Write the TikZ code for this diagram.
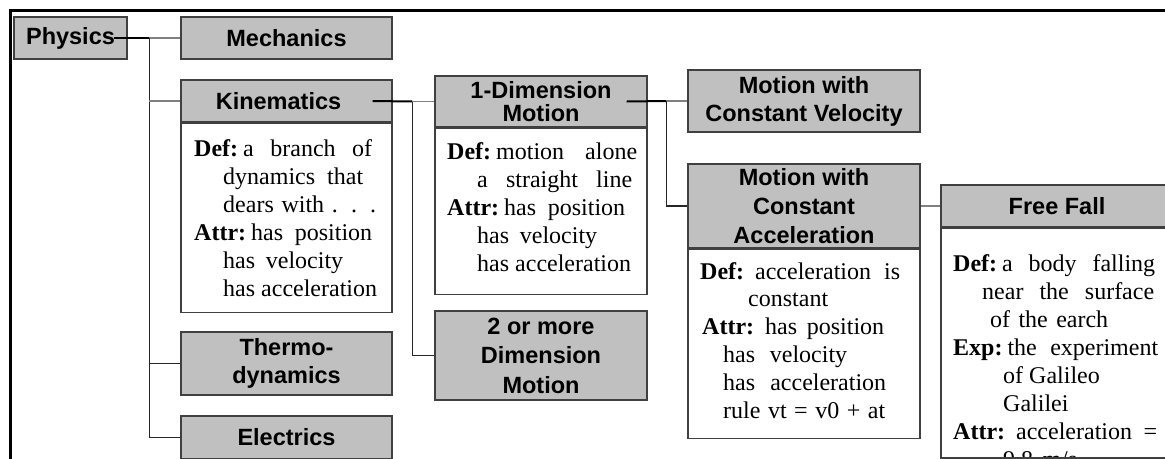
\documentclass[tikz,border=0pt]{standalone}
\usepackage{fontspec}
\setmainfont{Liberation Serif}
\newfontfamily\hdfont{Liberation Sans}
\usetikzlibrary{calc}
\definecolor{hdgray}{HTML}{C0C0C0}
\definecolor{edge}{HTML}{404040}

\tikzset{
  hdbox/.style={draw=edge, line width=1.3pt, fill=hdgray, inner sep=0pt, align=center,
    font=\hdfont\bfseries\fontsize{23.5}{#1}\selectfont},
  hdbox/.default=28,
  bodybox/.style={draw=edge, line width=1.3pt, fill=white, inner sep=0pt, anchor=north},
  ln/.style={anchor=base west, inner sep=0pt, font=\fontsize{24}{28}\selectfont},
  stem/.style={line width=2pt, black},
  spine/.style={line width=1.2pt, black!85},
  twig/.style={line width=1.2pt, black!50},
  twigdark/.style={line width=1.2pt, black!85},
}
% a justified line of the given width
\newcommand{\jl}[2]{\makebox[#1pt][s]{#2}}
% a bold label followed by a fixed gap
\newcommand{\lbl}[2]{\textbf{#1}\hspace{#2pt}}

\begin{document}
\begin{tikzpicture}[x=1pt, y=-1pt]
\useasboundingbox (0,0) rectangle (1165,458);
\clip (0,0) rectangle (1165,458);

% outer frame (top and left edges)
\draw[line width=3pt] (1170,10.5) -- (10.5,10.5) -- (10.5,462);

% ---- column 1 ----
\node[hdbox, minimum width=113pt, minimum height=42pt] (phys) at (70.5,38) {Physics};

% ---- column 2 ----
\node[hdbox, minimum width=211pt, minimum height=42pt] (mech) at (286.5,38) {Mechanics};
\node[hdbox, minimum width=211pt, minimum height=42pt] (kin) at (286.5,101) {Kinematics\kern16pt};
\node[bodybox, minimum width=211pt, minimum height=189pt] (kinb) at (kin.south) {};
\node[hdbox, minimum width=211pt, minimum height=63pt] (thermo) at (286.5,363.5) {Thermo-\\dynamics};
\node[hdbox, minimum width=211pt, minimum height=43pt] (elec) at (286.5,437.5) {Electrics};

\node[ln] (k1) at (194,156) {\jl{178}{\lbl{Def:}{5}a branch of}};
\node[ln] (k2) at (223,184) {\jl{140}{dynamics that}};
\node[ln] (k3) at (223,212) {\jl{153}{dears with . . .}};
\node[ln] (k4) at (194,240) {\jl{178}{\lbl{Attr:}{5}has position}};
\node[ln] (k5) at (223,268) {\jl{120}{has velocity}};
\node[ln] (k6) at (223,296) {has acceleration};

% ---- column 3 ----
\node[hdbox=23, minimum width=212pt, minimum height=51pt] (dimA) at (541,101.5) {1-Dimension\\Motion};
\node[bodybox, minimum width=212pt, minimum height=166pt] (dimAb) at (dimA.south) {};
\node[hdbox=29.5, minimum width=212pt, minimum height=89pt] (dimB) at (541,355.5) {2 or more\\Dimension\\Motion};

\node[ln] (d1) at (447,159) {\jl{190}{\lbl{Def:}{5}motion alone}};
\node[ln] (d2) at (477,187) {\jl{155}{a straight line}};
\node[ln] (d3) at (447,215) {\jl{178}{\lbl{Attr:}{5}has position}};
\node[ln] (d4) at (477,243) {\jl{120}{has velocity}};
\node[ln] (d5) at (477,271) {has acceleration};

% ---- column 4 ----
\node[hdbox, minimum width=232pt, minimum height=62pt] (mcv) at (804,101) {Motion with\\Constant Velocity};
\node[hdbox=29, minimum width=232pt, minimum height=84pt] (mca) at (804,206) {Motion with\\Constant\\Acceleration};
\node[bodybox, minimum width=232pt, minimum height=189pt] (mcab) at (mca.south) {};

\node[ln] (m1) at (700,279) {\jl{200}{\lbl{Def:}{11}acceleration is}};
\node[ln] (m2) at (748,306) {constant};
\node[ln] (m3) at (702,334) {\jl{182}{\lbl{Attr:}{11}has position}};
\node[ln] (m4) at (723,362) {\jl{124}{has velocity}};
\node[ln] (m5) at (723,390) {\jl{163}{has acceleration}};
\node[ln] (m6) at (723,418) {\jl{162}{rule vt = v0 + at}};

% ---- column 5 ----
\node[hdbox, minimum width=232pt, minimum height=42pt] (ff) at (1057,206) {Free Fall};
\node[bodybox, minimum width=232pt, minimum height=229pt] (ffb) at (ff.south) {};
\begin{scope}
  \clip (ffb.north west) rectangle ($(ffb.south east)+(0,-0.6)$);
  \node[ln] (f1) at (953,271) {\jl{202}{\lbl{Def:}{5}a body falling}};
  \node[ln] (f2) at (982,299) {\jl{172}{near the surface}};
  \node[ln] (f3) at (990,327) {\jl{118}{of the earch}};
  \node[ln] (f4) at (953,355) {\jl{205}{\lbl{Exp:}{5}the experiment}};
  \node[ln] (f5) at (1003,383) {of Galileo};
  \node[ln] (f6) at (1003,411) {Galilei};
  \node[ln] (f7) at (953,439) {\jl{204}{\lbl{Attr:}{11}acceleration =}};
  \node[ln] (f8) at (1003,467) {\jl{74}{9.8 m/s}};
\end{scope}
\draw[draw=edge, line width=1.3pt] (ffb.south west) -- (ffb.south east);

% ---- connectors ----
\coordinate (j0) at ($(mech.west)+(-31,0)$);
\draw[stem] ($(phys.east)+(-14,0)$) -- (j0);
\draw[twig] (j0) -- (mech.west);
\draw[spine] (j0) -- (j0 |- elec.west);
\draw[twig] (j0 |- kin.west) -- (kin.west);
\draw[twigdark] (j0 |- thermo.west) -- (thermo.west);
\draw[twigdark] (j0 |- elec.west) -- (elec.west);

\coordinate (j1) at ($(dimA.west)+(-22,0)$);
\draw[stem] ($(kin.east)+(-20,0)$) -- (j1);
\draw[twig] (j1) -- (dimA.west);
\draw[spine] (j1) -- (j1 |- dimB.west);
\draw[twigdark] (j1 |- dimB.west) -- (dimB.west);

\coordinate (j2) at ($(mcv.west)+(-21,0)$);
\draw[stem] ($(dimA.east)+(-21,0)$) -- (j2);
\draw[twig] (j2) -- (mcv.west);
\draw[spine] (j2) -- (j2 |- mca.west);
\draw[twigdark] (j2 |- mca.west) -- (mca.west);
\draw[twig] (mca.east) -- (ff.west);
\end{tikzpicture}
\end{document}
